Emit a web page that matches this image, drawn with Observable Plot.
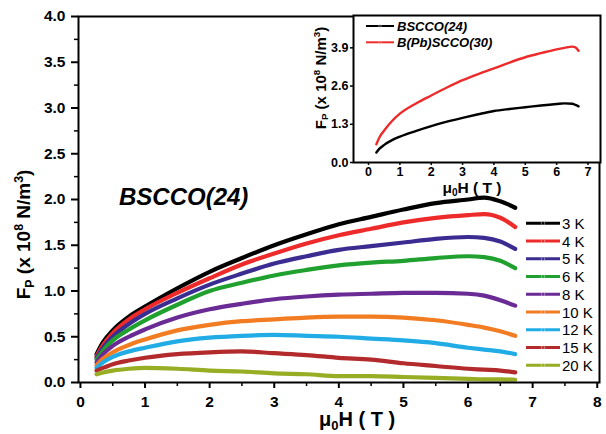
<!DOCTYPE html>
<html>
<head>
<meta charset="utf-8">
<script src="https://cdn.jsdelivr.net/npm/d3@7"></script>
<script src="https://cdn.jsdelivr.net/npm/@observablehq/plot@0.6"></script>
<style>
  html, body { margin: 0; padding: 0; background: white; }
  #wrap { position: relative; width: 606px; height: 434px; font-family: "Liberation Sans", Arial, sans-serif; overflow: hidden; }
  #wrap svg { position: absolute; }
  .lbl { position: absolute; white-space: nowrap; font-weight: bold; color: #000; line-height: 1; }
  .sub { font-size: 0.65em; vertical-align: -0.3em; }
  .sup { font-size: 0.65em; vertical-align: 0.55em; }
</style>
</head>
<body>
<div id="wrap"></div>
<script>
// ---------------- data ----------------
const temps = ["3 K", "4 K", "5 K", "6 K", "8 K", "10 K", "12 K", "15 K", "20 K"];
const tempColors = ["#000000", "#ee2b2b", "#3b2c91", "#1fa02f", "#6a2b94", "#f27c22", "#21ace6", "#b22a2c", "#97ad23"];
const fieldT = [0.25, 0.35, 0.5, 0.75, 1, 1.5, 2, 2.5, 3, 3.5, 4, 4.5, 5, 5.5, 6, 6.25, 6.5, 6.73];
const fp3K  = [0.31, 0.44, 0.57, 0.72, 0.83, 1.03, 1.21, 1.36, 1.50, 1.62, 1.73, 1.81, 1.89, 1.96, 2.00, 2.02, 1.98, 1.91];
const fp4K  = [0.29, 0.41, 0.54, 0.69, 0.80, 0.98, 1.14, 1.29, 1.41, 1.52, 1.61, 1.68, 1.75, 1.80, 1.83, 1.84, 1.80, 1.70];
const fp5K  = [0.27, 0.38, 0.50, 0.64, 0.75, 0.92, 1.07, 1.19, 1.30, 1.38, 1.45, 1.49, 1.53, 1.57, 1.59, 1.58, 1.54, 1.46];
const fp6K  = [0.25, 0.35, 0.46, 0.58, 0.68, 0.85, 1.00, 1.09, 1.17, 1.23, 1.28, 1.31, 1.33, 1.36, 1.38, 1.37, 1.33, 1.25];
const fp8K  = [0.22, 0.31, 0.40, 0.50, 0.58, 0.71, 0.80, 0.86, 0.91, 0.94, 0.96, 0.97, 0.98, 0.98, 0.97, 0.95, 0.90, 0.84];
const fp10K = [0.19, 0.26, 0.33, 0.41, 0.47, 0.57, 0.63, 0.67, 0.69, 0.71, 0.72, 0.72, 0.71, 0.68, 0.63, 0.60, 0.56, 0.51];
const fp12K = [0.16, 0.22, 0.28, 0.34, 0.38, 0.45, 0.49, 0.51, 0.52, 0.51, 0.50, 0.48, 0.46, 0.43, 0.38, 0.36, 0.34, 0.31];
const fp15K = [0.13, 0.16, 0.20, 0.24, 0.27, 0.31, 0.33, 0.34, 0.32, 0.30, 0.27, 0.25, 0.21, 0.18, 0.15, 0.14, 0.13, 0.11];
const fp20K = [0.09, 0.11, 0.13, 0.15, 0.16, 0.15, 0.13, 0.12, 0.10, 0.09, 0.07, 0.07, 0.06, 0.05, 0.04, 0.035, 0.035, 0.03];
const seriesFp = [fp3K, fp4K, fp5K, fp6K, fp8K, fp10K, fp12K, fp15K, fp20K];

const xTicks = [0, 1, 2, 3, 4, 5, 6, 7, 8];
const xMinor = [0.5, 1.5, 2.5, 3.5, 4.5, 5.5, 6.5, 7.5];
const yTicks = [0, 0.5, 1.0, 1.5, 2.0, 2.5, 3.0, 3.5, 4.0];
const yMinor = [0.25, 0.75, 1.25, 1.75, 2.25, 2.75, 3.25, 3.75];

// inset
const insetNames = ["BSCCO(24)", "B(Pb)SCCO(30)"];
const insetColors = ["#000000", "#ee2b2b"];
const insetField = [0.25, 0.35, 0.5, 0.75, 1, 1.5, 2, 2.5, 3, 3.5, 4, 4.5, 5, 5.5, 6, 6.25, 6.5, 6.6, 6.7];
const insetBscco = [0.34, 0.47, 0.60, 0.76, 0.88, 1.07, 1.24, 1.39, 1.52, 1.64, 1.75, 1.82, 1.88, 1.94, 1.99, 2.01, 2.00, 1.96, 1.91];
const insetBpb   = [0.62, 0.86, 1.09, 1.41, 1.66, 2.00, 2.28, 2.55, 2.80, 3.01, 3.20, 3.40, 3.58, 3.72, 3.85, 3.90, 3.94, 3.92, 3.80];
const insetXTicks = [0, 1, 2, 3, 4, 5, 6, 7];
const insetYTicks = [0, 1.3, 2.6, 3.9];

// ---------------- build ----------------
const rows = temps.flatMap((t, i) => fieldT.map((h, j) => ({t, h, fp: seriesFp[i][j]})));
const insetRows = [
  ...insetField.map((h, j) => ({s: insetNames[0], h, fp: insetBscco[j]})),
  ...insetField.map((h, j) => ({s: insetNames[1], h, fp: insetBpb[j]}))
];

const FONT = "Liberation Sans, Arial, sans-serif";
const wrap = document.getElementById("wrap");

const main = Plot.plot({
  width: 606, height: 434,
  marginLeft: 78, marginRight: 7, marginTop: 16, marginBottom: 52,
  style: {fontFamily: FONT, background: "white", color: "black"},
  x: {domain: [-0.03, 8.035]},
  y: {domain: [0, 4.0]},
  color: {domain: temps, range: tempColors},
  marks: [
    Plot.axisY({ticks: yTicks, tickSize: 7, tickPadding: 6, tickFormat: d => d.toFixed(1), fontSize: 15.5, fontWeight: "bold", label: null, strokeWidth: 2}),
    Plot.axisY({ticks: yMinor, tickSize: 4, tickFormat: () => "", label: null, strokeWidth: 1.5}),
    Plot.axisX({ticks: xTicks, tickSize: 6, tickPadding: 7, fontSize: 15.5, fontWeight: "bold", label: null, strokeWidth: 2}),
    Plot.axisX({ticks: xMinor, tickSize: 4, tickFormat: () => "", label: null, strokeWidth: 1.5}),
    Plot.line(rows, {x: "h", y: "fp", z: "t", stroke: "t", strokeWidth: 4.2, curve: "monotone-x"}),
    Plot.frame({stroke: "black", strokeWidth: 2})
  ]
});
main.style.left = "0px"; main.style.top = "0px";
wrap.appendChild(main);

const inset = Plot.plot({
  width: 306, height: 200,
  marginLeft: 53, marginRight: 6, marginTop: 15, marginBottom: 38,
  style: {fontFamily: FONT, background: "transparent", color: "black"},
  x: {domain: [-0.48, 7.4]},
  y: {domain: [0, 5.0]},
  color: {domain: insetNames, range: insetColors},
  marks: [
    Plot.frame({fill: "white", stroke: "none"}),
    Plot.axisY({ticks: insetYTicks, tickSize: 3, tickPadding: 2, tickFormat: d => d.toFixed(1), fontSize: 12.5, fontWeight: "bold", label: null, strokeWidth: 1.5}),
    Plot.axisX({ticks: insetXTicks, tickSize: 3, tickPadding: 2, fontSize: 12.5, fontWeight: "bold", label: null, strokeWidth: 1.5}),
    Plot.line(insetRows, {x: "h", y: "fp", z: "s", stroke: "s", strokeWidth: 2.4, curve: "monotone-x"}),
    Plot.frame({stroke: "black", strokeWidth: 2})
  ]
});
inset.style.left = "300px"; inset.style.top = "0px";
wrap.appendChild(inset);

// ---------------- text overlays ----------------
function addLabel(html, cx, cy, size, opts = {}) {
  const d = document.createElement("div");
  d.className = "lbl";
  d.innerHTML = html;
  d.style.fontSize = size + "px";
  if (opts.italic) d.style.fontStyle = "italic";
  if (opts.normal) d.style.fontWeight = "normal";
  wrap.appendChild(d);
  const w = d.offsetWidth, h = d.offsetHeight;
  if (opts.left != null) {
    d.style.left = opts.left + "px";
    d.style.top = (cy - h / 2) + "px";
  } else {
    d.style.left = (cx - w / 2) + "px";
    d.style.top = (cy - h / 2) + "px";
  }
  if (opts.rotate) d.style.transform = "rotate(-90deg)";
  return d;
}

addLabel('F<span class="sub">P</span> (x 10<span class="sup">8</span> N/m<span class="sup">3</span>)', 25, 234, 19, {rotate: true});
addLabel('μ<span class="sub">0</span>H ( T )', 357, 420, 20);
addLabel('BSCCO(24)', 0, 197, 24, {italic: true, left: 119});

addLabel('F<span class="sub">P</span> (x 10<span class="sup">8</span> N/m<span class="sup">3</span>)', 321, 78, 15, {rotate: true});
addLabel('μ<span class="sub">0</span>H ( T )', 472, 189, 15.5);

// legends (plain SVG overlay)
const ns = "http://www.w3.org/2000/svg";
const leg = document.createElementNS(ns, "svg");
leg.setAttribute("width", 606); leg.setAttribute("height", 434);
leg.style.left = "0px"; leg.style.top = "0px"; leg.style.pointerEvents = "none";
wrap.appendChild(leg);
function legLine(x1, x2, y, color, w, r) {
  const l = document.createElementNS(ns, "line");
  l.setAttribute("x1", x1); l.setAttribute("x2", x2); l.setAttribute("y1", y); l.setAttribute("y2", y);
  l.setAttribute("stroke", color); l.setAttribute("stroke-width", w);
  leg.appendChild(l);
  const c = document.createElementNS(ns, "circle");
  c.setAttribute("cx", (x1 + x2) / 2); c.setAttribute("cy", y); c.setAttribute("r", r);
  c.setAttribute("fill", color); c.setAttribute("stroke", "#ffffff"); c.setAttribute("stroke-opacity", 0.5); c.setAttribute("stroke-width", 0.8);
  leg.appendChild(c);
}
temps.forEach((t, i) => {
  const y = 223.3 + i * 17.75;
  legLine(526, 560, y, tempColors[i], 3, 1.8);
  addLabel(t, 0, y, 15, {normal: true, left: 562});
});
insetNames.forEach((n, i) => {
  const y = 26 + i * 16.3;
  legLine(366, 394, y, insetColors[i], 2, 1.3);
  addLabel(n, 0, y, 13, {italic: true, left: 397});
});
</script>
</body>
</html>
